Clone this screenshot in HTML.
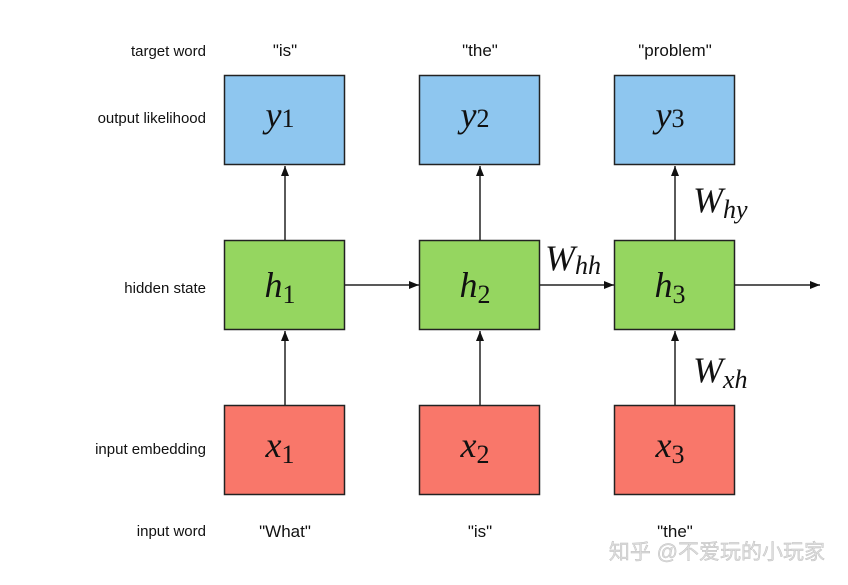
<!DOCTYPE html>
<html><head><meta charset="utf-8"><style>html,body{margin:0;padding:0;background:#fff}svg{display:block}</style></head><body>
<svg width="848" height="585" viewBox="0 0 848 585" xmlns="http://www.w3.org/2000/svg">
<defs><marker id="a" markerWidth="10" markerHeight="8" refX="10" refY="4" orient="auto" markerUnits="userSpaceOnUse"><path d="M0,0 L10,4 L0,8 z" fill="#111"/></marker></defs>
<g font-family="Liberation Sans, sans-serif" font-size="15" fill="#111" text-anchor="end">
<text x="206" y="56">target word</text>
<text x="206" y="123">output likelihood</text>
<text x="206" y="293">hidden state</text>
<text x="206" y="454">input embedding</text>
<text x="206" y="536">input word</text>
</g>
<g font-family="Liberation Sans, sans-serif" font-size="17" fill="#111" text-anchor="middle">
<text x="285" y="56">"is"</text><text x="480" y="56">"the"</text><text x="675" y="56">"problem"</text>
<text x="285" y="537">"What"</text><text x="480" y="537">"is"</text><text x="675" y="537">"the"</text>
</g>
<g stroke="#222" stroke-width="1.5">
<rect x="224.5" y="75.5" width="120" height="89" fill="#8ec6ef"/>
<rect x="419.5" y="75.5" width="120" height="89" fill="#8ec6ef"/>
<rect x="614.5" y="75.5" width="120" height="89" fill="#8ec6ef"/>
<rect x="224.5" y="240.5" width="120" height="89" fill="#95d660"/>
<rect x="419.5" y="240.5" width="120" height="89" fill="#95d660"/>
<rect x="614.5" y="240.5" width="120" height="89" fill="#95d660"/>
<rect x="224.5" y="405.5" width="120" height="89" fill="#f9776a"/>
<rect x="419.5" y="405.5" width="120" height="89" fill="#f9776a"/>
<rect x="614.5" y="405.5" width="120" height="89" fill="#f9776a"/>
</g>
<g stroke="#222" stroke-width="1.5" marker-end="url(#a)">
<line x1="285" y1="240" x2="285" y2="166"/>
<line x1="480" y1="240" x2="480" y2="166"/>
<line x1="675" y1="240" x2="675" y2="166"/>
<line x1="285" y1="405" x2="285" y2="331"/>
<line x1="480" y1="405" x2="480" y2="331"/>
<line x1="675" y1="405" x2="675" y2="331"/>
<line x1="345" y1="285" x2="419" y2="285"/>
<line x1="540" y1="285" x2="614" y2="285"/>
<line x1="735" y1="285" x2="820" y2="285"/>
</g>
<g font-family="Liberation Serif, serif" font-style="italic" font-size="36" fill="#111" text-anchor="middle">
<text x="280" y="127">y<tspan font-style="normal" font-size="26">1</tspan></text>
<text x="475" y="127">y<tspan font-style="normal" font-size="26">2</tspan></text>
<text x="670" y="127">y<tspan font-style="normal" font-size="26">3</tspan></text>
<text x="280" y="297">h<tspan font-style="normal" font-size="26" dy="6">1</tspan></text>
<text x="475" y="297">h<tspan font-style="normal" font-size="26" dy="6">2</tspan></text>
<text x="670" y="297">h<tspan font-style="normal" font-size="26" dy="6">3</tspan></text>
<text x="280" y="457">x<tspan font-style="normal" font-size="26" dy="6">1</tspan></text>
<text x="475" y="457">x<tspan font-style="normal" font-size="26" dy="6">2</tspan></text>
<text x="670" y="457">x<tspan font-style="normal" font-size="26" dy="6">3</tspan></text>
</g>
<g font-family="Liberation Serif, serif" font-style="italic" font-size="36" fill="#111">
<text x="545" y="270">W<tspan font-size="26" dy="4">hh</tspan></text>
<text x="693" y="212">W<tspan font-size="26" dy="6">hy</tspan></text>
<text x="693" y="382">W<tspan font-size="26" dy="6">xh</tspan></text>
</g>
<text x="825" y="559" text-anchor="end" font-family="Liberation Sans, Noto Sans CJK SC, sans-serif" font-size="21" fill="#ddd" stroke="#bbb" stroke-width="0.4">知乎 @不爱玩的小玩家</text>
</svg>
</body></html>
